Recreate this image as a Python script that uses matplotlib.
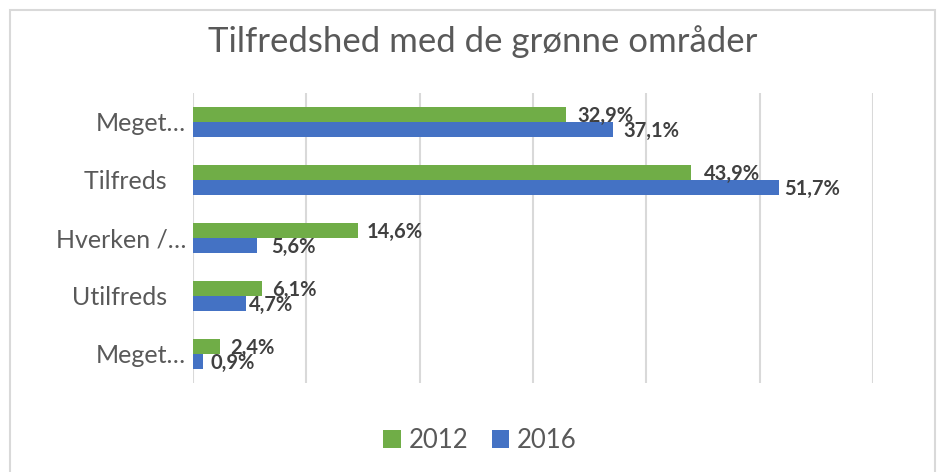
import matplotlib.pyplot as plt
from matplotlib.patches import Rectangle
import numpy as np

plt.rcParams['font.family'] = ['Lato', 'DejaVu Sans']

categories = ['Meget…', 'Tilfreds   ', 'Hverken /…', 'Utilfreds   ', 'Meget…']
values_2012 = [32.9, 43.9, 14.6, 6.1, 2.4]
values_2016 = [37.1, 51.7, 5.6, 4.7, 0.9]
years = ['2012', '2016']

# label nudges (pixels), as placed in the original
nudge_2012 = [11, 13, 8, 10, 10]
nudge_2016 = [10, 5, 15, 3, 7]

green = '#70AD47'
blue = '#4472C4'
text_grey = '#595959'
label_grey = '#404040'

fig = plt.figure(figsize=(9.38, 4.72), dpi=100)
ax = fig.add_axes([0.2058, 0.1886, 0.7249, 0.6144])

# chart frame
fig.patches.append(Rectangle((10 / 938, -0.1), 925 / 938, 1.1 - 10 / 472,
                             transform=fig.transFigure, fill=False,
                             edgecolor='#D9D9D9', linewidth=1.5))

y = np.arange(len(categories))
h = 0.26
bars12 = ax.barh(y - h / 2, values_2012, height=h, color=green, label=years[0])
bars16 = ax.barh(y + h / 2, values_2016, height=h, color=blue, label=years[1])

for bars, vals, nudges in [(bars12, values_2012, nudge_2012),
                           (bars16, values_2016, nudge_2016)]:
    for b, v, n in zip(bars, vals, nudges):
        ax.annotate(f'{v:.1f}%'.replace('.', ','),
                    (b.get_width(), b.get_y() + b.get_height() / 2),
                    xytext=(n * 0.72, -1), textcoords='offset points',
                    va='center', ha='left', fontsize=14.5, fontweight='bold',
                    color=label_grey)

ax.set_xlim(0, 60)
ax.set_ylim(4.5, -0.5)
ax.set_xticks(np.arange(0, 61, 10))
ax.set_xticklabels([])
ax.tick_params(axis='x', length=0)
ax.tick_params(axis='y', length=0, pad=5, labelsize=18, labelcolor=text_grey)
ax.set_yticks(y)
ax.set_yticklabels(categories)
ax.grid(axis='x', color='#D9D9D9', linewidth=1.5)
ax.set_axisbelow(True)
for s in ax.spines.values():
    s.set_visible(False)

fig.text(483 / 938, 1 - 42 / 472, 'Tilfredshed med de grønne områder',
         ha='center', va='center', fontsize=25, color=text_grey)

leg = fig.legend(loc='center', bbox_to_anchor=(480 / 938, 1 - 440 / 472), ncol=2,
                 frameon=False, fontsize=18.5, handlelength=0.7, handleheight=0.7,
                 handletextpad=0.3, columnspacing=0.9)
for t in leg.get_texts():
    t.set_color(text_grey)

fig.savefig('out.png', dpi=100)
